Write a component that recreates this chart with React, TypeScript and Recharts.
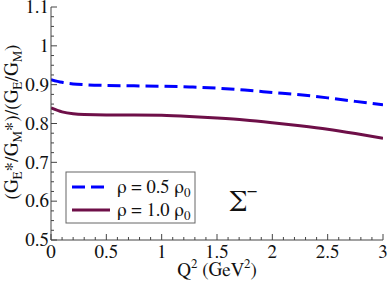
import { LineChart, Line, XAxis, YAxis, Customized } from "recharts";

const q2 = [0, 0.1, 0.2, 0.3, 0.5, 0.75, 1.0, 1.25, 1.5, 1.75, 2.0, 2.25, 2.5, 2.75, 3.0];
const halfRho = [0.913, 0.906, 0.902, 0.9, 0.898, 0.897, 0.896, 0.894, 0.891, 0.886, 0.88, 0.874, 0.866, 0.857, 0.848];
const fullRho = [0.84, 0.83, 0.825, 0.823, 0.822, 0.822, 0.821, 0.818, 0.814, 0.809, 0.802, 0.794, 0.785, 0.774, 0.762];

const xMajor = [0, 0.5, 1, 1.5, 2, 2.5, 3];
const yMajor = [0.5, 0.6, 0.7, 0.8, 0.9, 1, 1.1];
const xTicks = Array.from({ length: 31 }, (_, i) => i / 10);
const yTicks = Array.from({ length: 25 }, (_, i) => 0.5 + i * 0.025);

const legendLabels = ["0.5", "1.0"];

const data = q2.map((q, i) => ({ q, half: halfRho[i], full: fullRho[i] }));

const FONT = "FreeSerif, serif";
const serif = { fontFamily: FONT };
const AXIS = "#444";
const BLUE = "#0000ff";
const PURPLE = "#6e0f48";

const isMajor = (v: number, majors: number[]) => majors.some((m) => Math.abs(m - v) < 1e-6);
const fmt = (v: number) => String(Math.round(v * 10) / 10);

const BottomTick = (props: any) => {
  const { x, y, payload } = props;
  const major = isMajor(payload.value, xMajor);
  return (
    <g>
      <line x1={x} x2={x} y1={y} y2={y - (major ? 6 : 3)} stroke={AXIS} />
      {major && (
        <text x={x} y={y + 18} textAnchor="middle" fontSize={19} style={serif} fill="#111">
          {fmt(payload.value)}
        </text>
      )}
    </g>
  );
};

const TopTick = (props: any) => {
  const { x, y, payload } = props;
  const major = isMajor(payload.value, xMajor);
  return <line x1={x} x2={x} y1={y} y2={y + (major ? 6 : 3)} stroke={AXIS} />;
};

const LeftTick = (props: any) => {
  const { x, y, payload } = props;
  const major = isMajor(payload.value, yMajor);
  return (
    <g>
      <line x1={x} x2={x + (major ? 6 : 3)} y1={y} y2={y} stroke={AXIS} />
      {major && (
        <text x={x - 2} y={y} dy="0.33em" textAnchor="end" fontSize={19} style={serif} fill="#111">
          {fmt(payload.value)}
        </text>
      )}
    </g>
  );
};

const RightTick = (props: any) => {
  const { x, y, payload } = props;
  const major = isMajor(payload.value, yMajor);
  return <line x1={x} x2={x - (major ? 6 : 3)} y1={y} y2={y} stroke={AXIS} />;
};

const Extras = () => (
  <g style={serif} fill="#111">
    {/* y axis title */}
    <text transform="translate(18,122) rotate(-90)" textAnchor="middle" fontSize={19} style={serif}>
      (G<tspan fontSize={13} dy={4}>E</tspan>
      <tspan dy={-4}>*/G</tspan>
      <tspan fontSize={13} dy={4}>M</tspan>
      <tspan dy={-4}>*)/(G</tspan>
      <tspan fontSize={13} dy={4}>E</tspan>
      <tspan dy={-4}>/G</tspan>
      <tspan fontSize={13} dy={4}>M</tspan>
      <tspan dy={-4}>)</tspan>
    </text>
    {/* x axis title */}
    <text x={217} y={276} textAnchor="middle" fontSize={19} style={serif}>
      Q<tspan fontSize={13} dy={-8}>2</tspan>
      <tspan dy={8}> (GeV</tspan>
      <tspan fontSize={13} dy={-8}>2</tspan>
      <tspan dy={8}>)</tspan>
    </text>
    {/* particle label */}
    <text x={229} y={211} fontSize={30} style={serif}>
      Σ<tspan fontSize={18} dy={-15}>−</tspan>
    </text>
    {/* legend */}
    <rect x={66} y={172} width={129} height={51} fill="#fff" stroke="#666" />
    <line x1={72} x2={110} y1={187} y2={187} stroke={BLUE} strokeWidth={3} strokeDasharray="13 6" />
    <line x1={72} x2={110} y1={210} y2={210} stroke={PURPLE} strokeWidth={3} />
    {legendLabels.map((l, i) => (
      <text key={l} x={117} y={193 + i * 23} fontSize={18.5} style={serif}>
        ρ = {l} ρ<tspan fontSize={13} dy={4}>0</tspan>
      </text>
    ))}
  </g>
);

export default function App() {
  return (
    <div style={{ position: "fixed", left: 0, top: 0, background: "#fff" }}>
      <LineChart width={388} height={284} data={data} margin={{ top: 7, right: 5, left: 0, bottom: 0 }}>
        <XAxis
          dataKey="q"
          type="number"
          domain={[0, 3]}
          ticks={xTicks}
          interval={0}
          tick={BottomTick}
          tickSize={0}
          tickMargin={0}
          tickLine={false}
          height={44}
          stroke={AXIS}
          allowDataOverflow
        />
        <XAxis
          xAxisId="t"
          orientation="top"
          dataKey="q"
          type="number"
          domain={[0, 3]}
          ticks={xTicks}
          interval={0}
          tick={TopTick}
          tickSize={0}
          tickMargin={0}
          tickLine={false}
          height={0}
          stroke={AXIS}
          allowDataOverflow
        />
        <YAxis
          type="number"
          domain={[0.5, 1.1]}
          ticks={yTicks}
          interval={0}
          tick={LeftTick}
          tickSize={0}
          tickMargin={0}
          tickLine={false}
          width={51}
          stroke={AXIS}
          allowDataOverflow
        />
        <YAxis
          yAxisId="r"
          orientation="right"
          type="number"
          domain={[0.5, 1.1]}
          ticks={yTicks}
          interval={0}
          tick={RightTick}
          tickSize={0}
          tickMargin={0}
          tickLine={false}
          width={0}
          stroke={AXIS}
          allowDataOverflow
        />
        <Line dataKey="half" type="monotone" stroke={BLUE} strokeWidth={3} strokeDasharray="13 6" dot={false} isAnimationActive={false} />
        <Line dataKey="full" type="monotone" stroke={PURPLE} strokeWidth={3} dot={false} isAnimationActive={false} />
        <Customized component={Extras} />
      </LineChart>
    </div>
  );
}
